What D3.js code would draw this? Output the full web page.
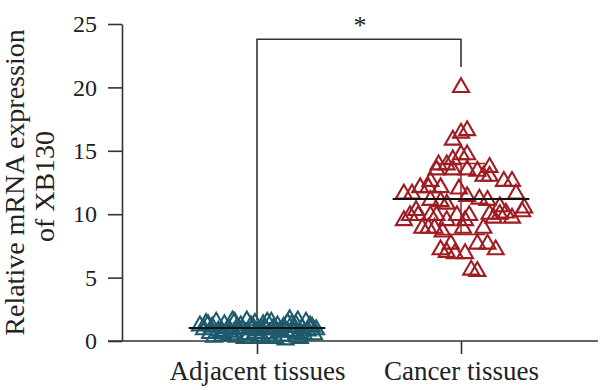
<!DOCTYPE html>
<html>
<head>
<meta charset="utf-8">
<script src="https://cdn.jsdelivr.net/npm/d3@7"></script>
<style>
  html, body { margin: 0; padding: 0; background: #fff; }
  svg { display: block; }
  text { font-family: "Liberation Serif", "DejaVu Serif", serif; fill: #222; }
</style>
</head>
<body>
<svg id="chart" width="600" height="390"></svg>
<script>
// ---- data ----
const categories = ["Adjacent tissues", "Cancer tissues"];
const yTicks = [0, 5, 10, 15, 20, 25];
const yLabelLines = ["Relative mRNA expression", "of XB130"];
const significance = "*";

// Adjacent tissues: relative expression values and horizontal jitter (category units)
const adjacentValues = [1.2,0.9,1.4,0.6,1.1,1.5,0.8,0.4,1.3,1.0,0.7,1.5,0.3,1.2,0.9,1.6,0.5,1.1,1.4,0.8,
  0.2,1.3,1.0,0.6,1.5,0.9,1.2,0.4,1.1,1.7,1.4,0.7,1.3,0.2,1.0,1.5,0.8,1.2,0.5,0.9,
  0.3,0.5,0.2,0.6,0.4,0.1,0.3,0.6,0.7,1.0,0.9,1.1,0.8,
  1.3,0.6,1.6,0.9,1.2,0.4,1.5,1.0,0.7,1.3,0.5,1.1,0.2,1.6];
const adjacentJitter = [-0.28,-0.26,-0.25,-0.23,-0.22,-0.20,-0.19,-0.17,-0.16,-0.14,-0.13,-0.11,-0.10,-0.08,-0.07,-0.05,-0.04,-0.02,-0.01,0.00,
  0.01,0.03,0.04,0.06,0.07,0.09,0.10,0.12,0.13,0.16,0.15,0.18,0.19,0.21,0.22,0.24,0.25,0.26,0.28,0.29,
  -0.21,-0.13,-0.06,-0.01,0.06,0.14,0.20,0.21,-0.17,-0.10,0.02,0.18,0.14,
  -0.24,-0.18,-0.12,-0.09,-0.03,0.02,0.05,0.08,0.11,0.17,0.23,0.27,0.09,0.20];

// Cancer tissues
const cancerValues = [20.0,16.6,16.4,15.85,14.7,14.7,14.3,13.9,13.9,13.7,13.5,13.5,13.5,13.4,13.0,13.0,12.6,12.6,12.6,
  12.1,12.1,12.1,12.0,11.6,11.6,11.6,11.4,11.2,11.1,11.1,11.0,10.8,10.6,10.5,10.3,
  9.9,9.9,9.9,9.9,9.9,9.9,10.0,10.0,10.1,10.2,9.5,9.5,9.5,9.7,9.7,
  8.9,8.9,8.9,8.9,8.9,8.6,7.65,7.65,7.65,7.2,7.0,6.9,6.9,7.2,5.6,5.5];
const cancerJitter = [0.00,0.03,0.00,-0.04,0.00,0.03,-0.04,-0.11,-0.07,0.14,-0.12,-0.04,0.03,0.08,0.11,0.14,0.21,0.25,-0.15,
  -0.20,-0.16,-0.10,-0.01,-0.28,-0.24,0.27,0.03,0.09,0.13,-0.15,-0.10,-0.07,0.19,0.31,-0.22,
  -0.25,-0.21,-0.15,-0.12,-0.02,0.04,0.14,0.19,0.22,0.30,-0.28,-0.07,0.02,0.16,0.25,
  -0.19,-0.16,-0.13,0.01,0.11,-0.09,-0.05,0.08,0.13,-0.10,-0.07,-0.03,0.02,0.17,0.05,0.08];

// summary statistics (mean ± SD)
const means = [1.03, 11.2];
const sds = [0.4, 2.8];

const colors = ["#1d5a6c", "#a01c22"];

// ---- drawing ----
const svg = d3.select("#chart");
const y = d3.scaleLinear().domain([0, 25]).range([341, 24]);
const x = d3.scaleLinear().domain([0, 1]).range([257, 461]);
const bandUnit = x(1) - x(0);

// y axis
const yAxis = svg.append("g").attr("transform", "translate(122,0)")
  .call(d3.axisLeft(y).tickValues(yTicks).tickSize(14).tickSizeOuter(0).tickPadding(11));
yAxis.selectAll("text").style("font-size", "24px").attr("fill", "#222");
yAxis.selectAll("line, path").attr("stroke", "#333").attr("stroke-width", 1.6);

// x axis baseline + ticks
const xAxis = svg.append("g").attr("transform", "translate(0,341)")
  .call(d3.axisBottom(x).tickValues([0, 1]).tickFormat(i => categories[i]).tickSize(13).tickSizeOuter(0).tickPadding(7));
xAxis.select(".domain").remove();
xAxis.selectAll("line").attr("stroke", "#333").attr("stroke-width", 1.6);
xAxis.selectAll("text").style("font-size", "27px").attr("fill", "#222");
svg.append("line").attr("x1", 108).attr("x2", 598).attr("y1", y(0)).attr("y2", y(0))
  .attr("stroke", "#333").attr("stroke-width", 1.6);

// y label
const yl = svg.append("text").attr("transform", `translate(0,${(y(0) + y(25)) / 2}) rotate(-90)`)
  .attr("text-anchor", "middle").style("font-size", "28px");
yl.append("tspan").attr("x", 0).attr("y", 24).text(yLabelLines[0]);
yl.append("tspan").attr("x", -4).attr("y", 54).text(yLabelLines[1]);

// significance bracket
svg.append("path")
  .attr("d", `M${x(0)},${y(1.65)} V${y(23.8)} H${x(1)} V${y(21.6)}`)
  .attr("fill", "none").attr("stroke", "#333").attr("stroke-width", 1.6);
svg.append("text").attr("x", (x(0) + x(1)) / 2 + 1).attr("y", 34)
  .attr("text-anchor", "middle").style("font-size", "26px").text(significance);

// points
const tri = d3.symbol().type(d3.symbolTriangle).size(110);
const groups = [
  adjacentValues.map((v, i) => ({ v, j: adjacentJitter[i] })),
  cancerValues.map((v, i) => ({ v, j: cancerJitter[i] }))
];
groups.forEach((pts, gi) => {
  svg.append("g").selectAll("path").data(pts).join("path")
    .attr("d", tri)
    .attr("transform", d => `translate(${x(gi + d.j)},${y(d.v)})`)
    .attr("fill", "none").attr("stroke", colors[gi]).attr("stroke-width", 2.1);
});

// mean and SD
groups.forEach((pts, gi) => {
  const g = svg.append("g");
  const cx = x(gi);
  g.append("line").attr("x1", cx).attr("x2", cx).attr("y1", y(means[gi] - sds[gi])).attr("y2", y(means[gi] + sds[gi]))
    .attr("stroke", colors[gi]).attr("stroke-width", 1.5);
  [means[gi] - sds[gi], means[gi] + sds[gi]].forEach(v => {
    g.append("line").attr("x1", cx - 0.12 * bandUnit).attr("x2", cx + 0.12 * bandUnit).attr("y1", y(v)).attr("y2", y(v))
      .attr("stroke", colors[gi]).attr("stroke-width", 1.5);
  });
  g.append("line").attr("x1", cx - 0.335 * bandUnit).attr("x2", cx + 0.335 * bandUnit).attr("y1", y(means[gi])).attr("y2", y(means[gi]))
    .attr("stroke", "#111").attr("stroke-width", 2);
});
</script>
</body>
</html>
